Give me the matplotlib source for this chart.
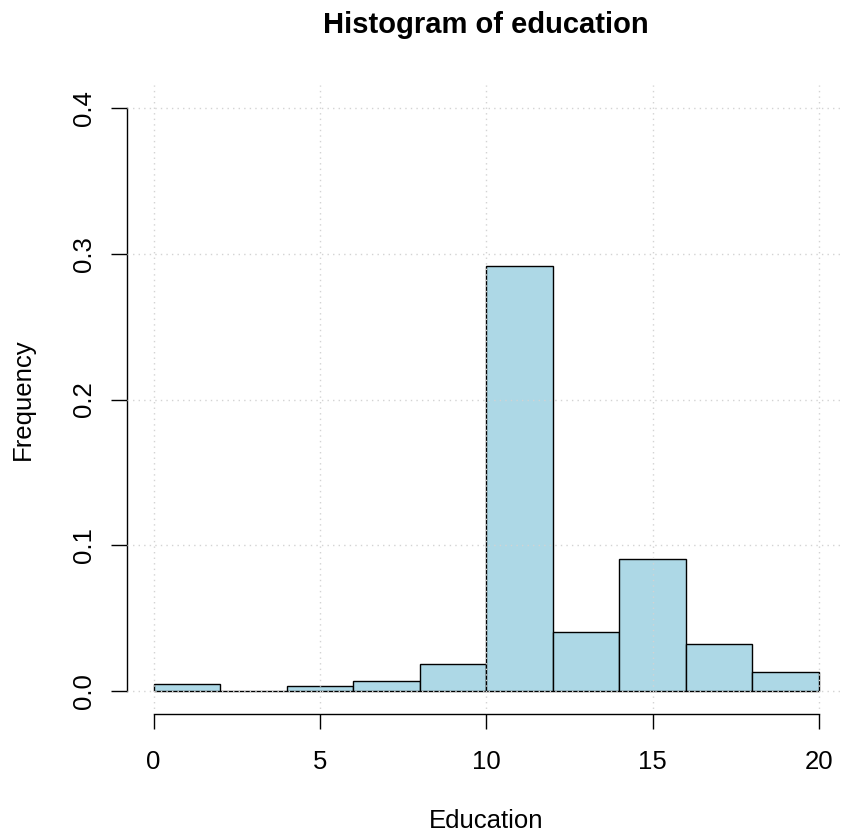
import numpy as np
import matplotlib
matplotlib.use("Agg")
import matplotlib.pyplot as plt

# histogram of education, density per bin (bins of width 2)
bin_edges = [0, 2, 4, 6, 8, 10, 12, 14, 16, 18, 20]
density = [0.0044, 0.0, 0.0034, 0.0067, 0.0185, 0.2917, 0.0405, 0.0902, 0.0319, 0.0130]
x_ticks = [0, 5, 10, 15, 20]
y_ticks = [0.0, 0.1, 0.2, 0.3, 0.4]
y_ticklabels = ["0.0", "0.1", "0.2", "0.3", "0.4"]

plt.rcParams['font.family'] = ['Liberation Sans', 'DejaVu Sans']

W, H = 841, 834
fig = plt.figure(figsize=(W / 100, H / 100), dpi=100)
ax = fig.add_axes([127 / W, (H - 714) / H, (845.6 - 127) / W, (714 - 85) / H])

lefts = np.array(bin_edges[:-1])
widths = np.diff(bin_edges)
ax.bar(lefts, density, width=widths, align='edge', color='#ADD8E6',
       edgecolor='black', linewidth=1.0, zorder=2)

# dotted grid drawn on top of bars like R's grid()
for xv in x_ticks:
    ax.axvline(xv, color='#D3D3D3', lw=1.0, dashes=(1, 3), zorder=3)
for yv in y_ticks:
    ax.axhline(yv, color='#D3D3D3', lw=1.0, dashes=(1, 3), zorder=3)

ax.set_xlim(-0.8, 20.8)
ax.set_ylim(-0.016, 0.416)

for s in ['top', 'right']:
    ax.spines[s].set_visible(False)
ax.spines['left'].set_bounds(0, 0.4)
ax.spines['bottom'].set_bounds(0, 20)
ax.spines['left'].set_linewidth(1.0)
ax.spines['bottom'].set_linewidth(1.0)

ax.set_xticks(x_ticks)
ax.set_xticklabels([str(v) for v in x_ticks])
ax.set_yticks(y_ticks)
ax.set_yticklabels(y_ticklabels, rotation=90, va='center')
ax.tick_params(axis='x', length=11, width=1.0, pad=15, labelsize=18.5)
ax.tick_params(axis='y', length=11.5, width=1.0, pad=11, labelsize=18.5)

fig.text(486 / W, 1 - 33 / H, "Histogram of education", ha='center',
         va='baseline', fontsize=21, fontweight='bold')
fig.text(486 / W, 1 - 828 / H, "Education", ha='center', va='baseline', fontsize=18.5)
fig.text(23 / W, 1 - 399 / H, "Frequency", ha='center', va='center',
         rotation=90, fontsize=18.5)

fig.savefig("out.png", dpi=100)
